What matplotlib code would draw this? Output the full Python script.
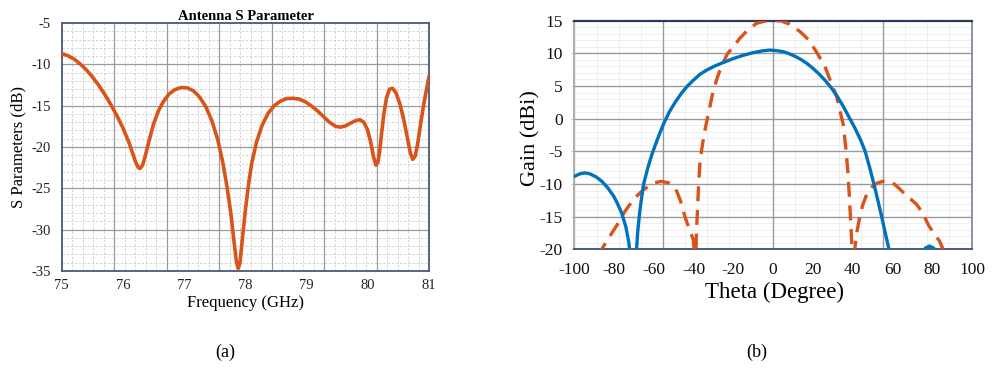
import numpy as np
import matplotlib
matplotlib.use("Agg")
import matplotlib.pyplot as plt

plt.rcParams['font.family'] = ['Liberation Serif', 'DejaVu Serif']
plt.rcParams['axes.unicode_minus'] = False

# ---------------- data: (a) S parameter ----------------
freq_ghz = [75.0, 75.1, 75.2, 75.3, 75.4, 75.5, 75.6, 75.7, 75.8, 75.9,
            76.0, 76.1, 76.15, 76.2, 76.25, 76.28, 76.32, 76.36, 76.42, 76.5,
            76.58, 76.66, 76.75, 76.85, 76.95, 77.05, 77.15, 77.25, 77.35, 77.45,
            77.55, 77.63, 77.70, 77.76, 77.81, 77.85, 77.88, 77.91, 77.95, 78.0,
            78.05, 78.1, 78.18, 78.27, 78.37, 78.47, 78.57, 78.67, 78.77, 78.87,
            78.97, 79.07, 79.17, 79.27, 79.37, 79.47, 79.55, 79.63, 79.72, 79.8,
            79.87, 79.93, 79.99, 80.04, 80.09, 80.13, 80.16, 80.19, 80.22, 80.26,
            80.3, 80.35, 80.4, 80.46, 80.52, 80.58, 80.64, 80.69, 80.73, 80.77,
            80.81, 80.86, 80.91, 80.96, 81.0]
s11_db = [-8.7, -8.95, -9.35, -9.95, -10.65, -11.5, -12.5, -13.6, -14.85, -16.2,
          -17.7, -19.5, -20.6, -21.7, -22.5, -22.6, -22.2, -21.2, -19.4, -17.2,
          -15.6, -14.5, -13.6, -13.05, -12.8, -12.85, -13.2, -13.95, -15.1, -16.8,
          -19.2, -21.9, -24.9, -28.0, -31.3, -33.8, -34.7, -34.0, -31.0, -27.5,
          -24.5, -22.0, -19.4, -17.4, -15.9, -15.0, -14.45, -14.15, -14.1, -14.2,
          -14.5, -15.0, -15.6, -16.3, -17.0, -17.5, -17.6, -17.45, -17.1, -16.8,
          -16.7, -17.0, -17.9, -19.3, -21.2, -22.2, -21.9, -20.5, -18.4, -15.9,
          -14.1, -13.0, -12.9, -13.5, -14.8, -16.6, -18.8, -20.7, -21.5, -21.1,
          -19.6, -17.1, -14.8, -12.8, -11.3]
freq_ticks = [75, 76, 77, 78, 79, 80, 81]
s_ticks = [-5, -10, -15, -20, -25, -30, -35]

# ---------------- data: (b) gain patterns ----------------
theta_solid = [-100, -97, -94.5, -92, -89, -86, -83, -80, -78, -76, -74, -72.5, -71, -70,
               -69, -68, -67, -66, -65, -63, -61, -59, -57, -55, -52, -49, -46, -43, -40,
               -36.7, -33, -29, -25, -20, -15, -10, -5, -1.5, 2, 5, 8, 11, 14, 17, 20,
               23, 26, 29, 32, 35, 38, 41, 44, 46.2, 48.5, 50.6, 52.5, 54.5, 56.3, 58.2,
               60, 62, 65, 68, 71, 73.5, 75, 76.5, 78.5, 80.5, 82, 84, 87, 92, 100]
gain_solid = [-8.85, -8.45, -8.3, -8.45, -8.9, -9.6, -10.6, -11.9, -13.1, -14.5, -16.5,
              -18.9, -22.5, -28, -22, -17.3, -14.3, -12.0, -10.0, -7.6, -5.6, -3.9, -2.3,
              -0.8, 1.1, 2.6, 3.9, 5.0, 5.9, 6.8, 7.5, 8.1, 8.6, 9.2, 9.7, 10.1, 10.4,
              10.5, 10.4, 10.25, 9.95, 9.55, 9.05, 8.45, 7.7, 6.85, 5.9, 4.8, 3.5, 2.0,
              0.3, -1.4, -3.3, -5.0, -7.5, -10.0, -12.4, -15.0, -17.5, -20.0, -22.5, -26,
              -32, -30, -25, -22, -20.5, -19.8, -19.5, -19.8, -20.3, -21.5, -24, -28, -30]

theta_dashed = [-95, -92, -88.5, -86.1, -82, -78, -74.4, -70, -65.2, -60.2, -56.5, -52.7,
                -50, -48.4, -46.5, -44.3, -42, -40.1, -39.4, -39.1, -38.8, -38.5, -38,
                -37.4, -36.7, -35.5, -34.2, -32, -30, -28, -26, -23, -20, -16.7, -13,
                -8.3, -4, 0, 4, 8, 11, 14, 18, 22, 26, 29, 31.9, 33.5, 35.2, 36.5, 37.5,
                38.3, 39, 39.6, 39.9, 40.3, 40.6, 41, 42, 43.5, 45, 47, 49.5, 52, 55,
                57, 60, 63, 66, 69, 72, 75, 78, 81, 83.5, 85.3, 88, 92]
gain_dashed = [-28, -25, -22, -20, -18.0, -16.1, -14.2, -12.3, -10.9, -9.9, -9.6, -9.8,
               -10.4, -11.1, -12.6, -15.0, -17.0, -18.5, -21, -26, -21, -17.5, -14.0,
               -10.0, -6.5, -4.0, -1.7, 1.5, 4.4, 6.3, 8.0, 9.9, 11.0, 12.3, 13.5,
               14.6, 14.95, 15.05, 14.95, 14.5, 13.9, 13.2, 12.0, 10.1, 8.0, 5.6, 3.4,
               1.3, -0.9, -4.5, -8.0, -12.0, -16.0, -20.0, -24, -28, -24, -20, -17.5,
               -15.0, -13.2, -11.6, -10.5, -9.9, -9.6, -9.6, -9.8, -10.6, -11.5, -12.3,
               -13.1, -14.4, -16.3, -17.7, -18.7, -20.0, -22, -25]
theta_ticks = [-100, -80, -60, -40, -20, 0, 20, 40, 60, 80, 100]
gain_ticks = [15, 10, 5, 0, -5, -10, -15, -20]

ORANGE = '#D9541A'
BLUE = '#0072BD'

fig = plt.figure(figsize=(9.97, 3.76), dpi=100)

# ---------------- panel (a) ----------------
ax1 = fig.add_axes([0.0619, 0.2793, 0.3687, 0.6595])
ax1.set_xlim(75, 81)
ax1.set_ylim(-35, -5)
ax1.set_xticks(freq_ticks)
ax1.set_yticks(s_ticks)
ax1.tick_params(axis='both', length=0, labelsize=10.5, colors='#222222')
ax1.tick_params(axis='x', pad=6)
ax1.tick_params(axis='y', pad=8)
# grid lines (major x grid does not coincide with the labels in the original)
xmaj = [75 + k * 6 / 7 for k in range(1, 7)]
xmin = [75 + k * 6 / 35 for k in range(1, 35) if k % 5 != 0]
for xv in xmin:
    ax1.axvline(xv, color='#cfcfcf', lw=0.6, ls=(0, (3, 2)), zorder=0)
for yv in np.arange(-34, -5, 1):
    if yv % 5 != 0:
        ax1.axhline(yv, color='#cfcfcf', lw=0.6, ls=(0, (3, 2)), zorder=0)
for xv in xmaj:
    ax1.axvline(xv, color='#9a9a9a', lw=0.9, zorder=0.5)
for yv in [-10, -15, -20, -25, -30]:
    ax1.axhline(yv, color='#9a9a9a', lw=0.9, zorder=0.5)
ax1.plot(freq_ghz, s11_db, color=ORANGE, lw=2.6, solid_joinstyle='round',
         solid_capstyle='round', zorder=3)
for sp in ax1.spines.values():
    sp.set_color('#4a5878')
    sp.set_linewidth(1.3)
ax1.set_title('Antenna S Parameter', fontsize=10.5, fontweight='bold', pad=2)
fig.text(0.246, 1 - 303 / 376, 'Frequency (GHz)', ha='center', va='center', fontsize=12)
fig.text(0.018, 1 - 147 / 376, 'S Parameters (dB)', ha='center', va='center',
         rotation=90, fontsize=12)
fig.text(225 / 997, 1 - 352 / 376, '(a)', ha='center', va='center', fontsize=13)

# ---------------- panel (b) ----------------
ax2 = fig.add_axes([0.5757, 0.337, 0.3995, 0.608])
ax2.set_xlim(-100, 100)
ax2.set_ylim(-20, 15)
ax2.set_xticks(theta_ticks)
ax2.set_yticks(gain_ticks)
ax2.tick_params(axis='x', length=0, labelsize=12.5, pad=9, colors='#111111')
ax2.tick_params(axis='y', length=2, width=0.6, color='#c0c0c0', labelsize=12.5,
                pad=6, labelcolor='#111111')
step = 55.3
vmaj = [-step, 0, step]
vmin = [k * step / 5 for k in range(-9, 10) if k % 5 != 0]
for xv in vmin:
    ax2.axvline(xv, color='#ececec', lw=0.6, zorder=0)
for yv in range(-19, 15):
    if yv % 5 != 0:
        ax2.axhline(yv, color='#ececec', lw=0.6, zorder=0)
for xv in vmaj:
    ax2.axvline(xv, color='#9a9a9a', lw=1.0, zorder=0.5)
for yv in [10, 5, 0, -5, -10, -15]:
    ax2.axhline(yv, color='#9a9a9a', lw=1.0, zorder=0.5)
ax2.plot(theta_dashed, gain_dashed, color=ORANGE, lw=2.4, ls=(0, (4.5, 2.6)), zorder=3)
ax2.plot(theta_solid, gain_solid, color=BLUE, lw=2.4, solid_joinstyle='round', zorder=4)
ax2.spines['top'].set_color('#2b3a5c')
ax2.spines['top'].set_linewidth(1.6)
ax2.spines['bottom'].set_color('#3e4e6e')
ax2.spines['bottom'].set_linewidth(1.3)
ax2.spines['left'].set_color('#a8a8a8')
ax2.spines['left'].set_linewidth(1.3)
ax2.spines['right'].set_color('#7d8aa3')
ax2.spines['right'].set_linewidth(1.3)
fig.text(0.7765, 1 - 292 / 376, 'Theta (Degree)', ha='center', va='center', fontsize=16.5)
fig.text(531 / 997, 1 - 138 / 376, 'Gain (dBi)', ha='center', va='center',
         rotation=90, fontsize=16)
fig.text(757 / 997, 1 - 352 / 376, '(b)', ha='center', va='center', fontsize=13)

fig.savefig('out.png', dpi=100)
